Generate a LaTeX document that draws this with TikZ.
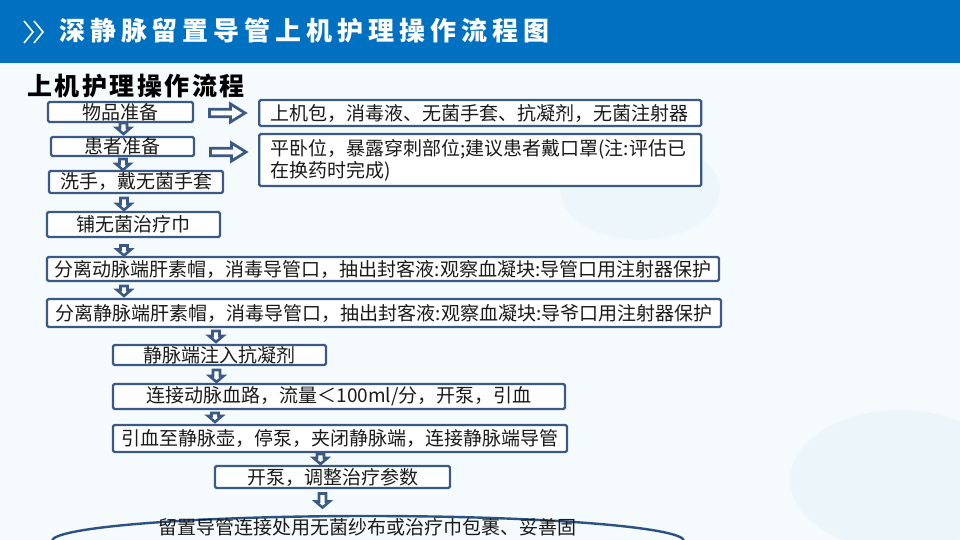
\documentclass[tikz,border=0pt]{standalone}
\usepackage{fontspec}
\setmainfont{Noto Sans CJK SC}
\newfontfamily\headfont[LetterSpace=19]{Noto Sans CJK SC}
\newfontfamily\subfont[LetterSpace=10]{Noto Sans CJK SC}
\usetikzlibrary{shapes.geometric}
\definecolor{barblue}{HTML}{0070C0}
\definecolor{boxline}{HTML}{3A5A85}
\definecolor{ovalline}{HTML}{2C5283}
\definecolor{txt}{HTML}{1A1A1A}
\definecolor{bgblue}{HTML}{F5FAFD}
\definecolor{blob}{HTML}{E3F2F9}

\begin{document}
\begin{tikzpicture}[x=1pt,y=-1pt,
    stepbox/.style={draw=boxline,line width=2.4pt,fill=white,rounded corners=1.5pt,inner sep=0pt,text=txt,font=\fontsize{19}{22}\selectfont},
    notebox/.style={stepbox,anchor=west,align=left,inner xsep=11pt,text width=420pt},
    pics/downarr/.style={code={
        \draw[boxline,fill=white,line width=2.6pt,line join=miter]
            (-3.5,0)--(3.5,0)--(3.5,#1-6)--(7,#1-6)--(0,#1)--(-7,#1-6)--(-3.5,#1-6)--cycle;}},
    pics/rightarr/.style={code={
        \draw[boxline,fill=white,line width=2.8pt,line join=miter]
            (0,-3.8)--(21,-3.8)--(21,-9)--(35.5,0)--(21,9)--(21,3.8)--(0,3.8)--cycle;}}]
        \useasboundingbox (0,0) rectangle (960,540);
        % background and header bar
        \fill[bgblue] (0,0) rectangle (960,540);
        \fill[blob,opacity=.5] (900,480) ellipse [x radius=110pt,y radius=70pt];
        \fill[blob,opacity=.4] (640,190) ellipse [x radius=80pt,y radius=50pt];
        \fill[barblue] (0,0) rectangle (960,63);
        \draw[white,line width=1.6pt] (24,21)--(33,32)--(24,43);
        \draw[white,line width=1.6pt] (34,21)--(43,32)--(34,43);
        \node[anchor=west,inner sep=0pt,text=white,font=\headfont\bfseries\fontsize{26}{30}\selectfont] (title) at (59,31) {深静脉留置导管上机护理操作流程图};
        \node[anchor=west,inner sep=0pt,font=\subfont\bfseries\fontsize{25}{28}\selectfont] (sub) at (27,86) {上机护理操作流程};
        % steps
        \node[stepbox,minimum width=145pt,minimum height=20pt] (b1) at (120.5,112) {物品准备};
        \node[stepbox,minimum width=143pt,minimum height=19pt] (b2) at (122.5,146.5) {患者准备};
        \node[stepbox,minimum width=174pt,minimum height=22pt] (b3) at (136,182) {洗手，戴无菌手套};
        \node[stepbox,minimum width=173pt,minimum height=25pt] (b4) at (133.5,224.5) {铺无菌治疗巾};
        \node[stepbox,minimum width=672pt,minimum height=24pt] (b5) at (383,269) {分离动脉端肝素帽，消毒导管口，抽出封客液:观察血凝块:导管口用注射器保护};
        \node[stepbox,minimum width=674pt,minimum height=28pt] (b6) at (384,313) {分离静脉端肝素帽，消毒导管口，抽出封客液:观察血凝块:导爷口用注射器保护};
        \node[stepbox,minimum width=213pt,minimum height=20pt] (b7) at (219.5,355) {静脉端注入抗凝剂};
        \node[stepbox,minimum width=452pt,minimum height=25pt] (b8) at (339,396.5) {连接动脉血路，流量＜100ml/分，开泵，引血};
        \node[stepbox,minimum width=454pt,minimum height=27pt] (b9) at (340,438.5) {引血至静脉壶，停泵，夹闭静脉端，连接静脉端导管};
        \node[stepbox,minimum width=235pt,minimum height=22pt] (b10) at (332.5,477) {开泵，调整治疗参数};
        \node[ellipse,draw=ovalline,line width=2.4pt,minimum width=632pt,minimum height=50pt,inner sep=0pt] (b11) at (368,541) {};
        \node[inner sep=0pt,text=txt,font=\fontsize{19}{22}\selectfont] (b11t) at (367.5,527) {留置导管连接处用无菌纱布或治疗巾包裹、妥善固};
        % notes
        \node[notebox,minimum height=26pt] (r1) at (258,113) {上机包，消毒液、无菌手套、抗凝剂，无菌注射器};
        \node[notebox,minimum height=52pt] (r2) at (258,160) {平卧位，暴露穿刺部位;建议患者戴口罩(注:评估已\\在换药时完成)};
        \pic (a1) at (209.5,113) {rightarr};
        \pic (a2) at (210.5,152) {rightarr};
        % down arrows
        \pic (d1) at (123.5,123) {downarr=11};
        \pic (d2) at (123,159) {downarr=11};
        \pic (d3) at (124,198) {downarr=12};
        \pic (d4) at (124,245.5) {downarr=10};
        \pic (d5) at (124,286) {downarr=10};
        \pic (d6) at (216,331) {downarr=11};
        \pic (d7) at (216.5,370) {downarr=12};
        \pic (d8) at (215,413) {downarr=9};
        \pic (d9) at (320.5,454) {downarr=10};
        \pic (d10) at (322.5,493.5) {downarr=14};
\end{tikzpicture}
\end{document}
